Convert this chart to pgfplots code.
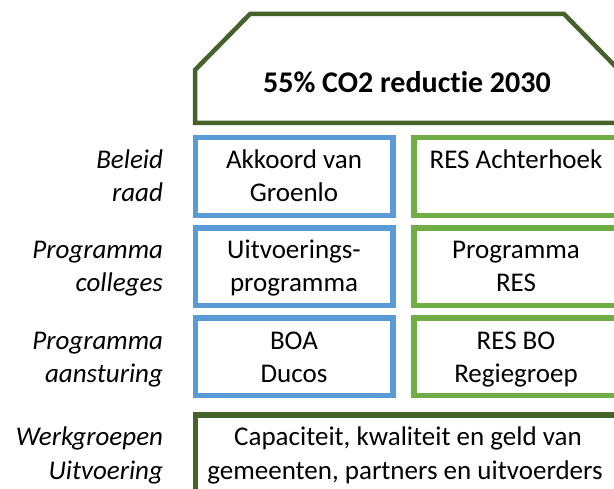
\documentclass[border=0pt]{standalone}
\usepackage{fontspec}
\setmainfont[Ligatures=NoCommon]{Carlito}
\usepackage{pgfplots}
\pgfplotsset{compat=1.18}
\definecolor{cblue}{HTML}{5B9BD5}
\definecolor{cgreen}{HTML}{70AD47}
\definecolor{dgreen}{HTML}{44622A}
\tikzset{txt/.style={inner sep=0pt, outer sep=0pt, anchor=base, font=\fontsize{27}{32}\selectfont},
  lab/.style={inner sep=0pt, outer sep=0pt, anchor=base east, font=\fontsize{27}{32}\selectfont\itshape}}
\begin{document}
\begin{tikzpicture}
\begin{axis}[scale only axis, width=614pt, height=489pt,
  xmin=0, xmax=614, ymin=0, ymax=489, y dir=reverse,
  hide axis, clip=true]
\path (rel axis cs:0,0) (rel axis cs:1,1);
% top polygon
\addplot[draw=dgreen, line width=4.5pt, line join=miter] coordinates {(195,123) (195,70) (250,14) (564,14) (619,70) (619,123)} --cycle;
% blue boxes
\addplot[draw=cblue, line width=5.5pt] coordinates {(195.5,137.5) (393,137.5) (393,215.5) (195.5,215.5)} --cycle;
\addplot[draw=cblue, line width=5.5pt] coordinates {(195.5,228) (393,228) (393,305.5) (195.5,305.5)} --cycle;
\addplot[draw=cblue, line width=5.5pt] coordinates {(195.5,318) (393,318) (393,395.5) (195.5,395.5)} --cycle;
% green boxes
\addplot[draw=cgreen, line width=5.5pt] coordinates {(414,137.5) (619,137.5) (619,215.5) (414,215.5)} --cycle;
\addplot[draw=cgreen, line width=5.5pt] coordinates {(414,228) (619,228) (619,305.5) (414,305.5)} --cycle;
\addplot[draw=cgreen, line width=5.5pt] coordinates {(414,318) (619,318) (619,395.5) (414,395.5)} --cycle;
% bottom box
\addplot[draw=dgreen, line width=5.5pt] coordinates {(195.5,415) (619,415) (619,500) (195.5,500)} --cycle;
% title
\node[txt, font=\fontsize{30}{36}\selectfont\bfseries] at (axis cs:407,93) {55\% CO2 reductie 2030};
% left labels
\node[lab] at (axis cs:163,169) {Beleid};
\node[lab] at (axis cs:163,202) {raad};
\node[lab] at (axis cs:163,259) {Programma};
\node[lab] at (axis cs:163,292) {colleges};
\node[lab] at (axis cs:163,350) {Programma};
\node[lab] at (axis cs:163,383) {aansturing};
\node[lab] at (axis cs:163,446) {Werkgroepen};
\node[lab] at (axis cs:163,479) {Uitvoering};
% blue texts
\node[txt] at (axis cs:294,169) {Akkoord van};
\node[txt] at (axis cs:294,202) {Groenlo};
\node[txt] at (axis cs:294,259) {Uitvoerings-};
\node[txt] at (axis cs:294,292) {programma};
\node[txt] at (axis cs:294,350) {BOA};
\node[txt] at (axis cs:294,383) {Ducos};
% green texts
\node[txt] at (axis cs:516,169) {RES Achterhoek};
\node[txt] at (axis cs:516,259) {Programma};
\node[txt] at (axis cs:516,292) {RES};
\node[txt] at (axis cs:516,350) {RES BO};
\node[txt] at (axis cs:516,383) {Regiegroep};
% bottom texts
\node[txt] at (axis cs:408,446) {Capaciteit, kwaliteit en geld van};
\node[txt] at (axis cs:405,479) {gemeenten, partners en uitvoerders};
\end{axis}
\end{tikzpicture}
\end{document}
